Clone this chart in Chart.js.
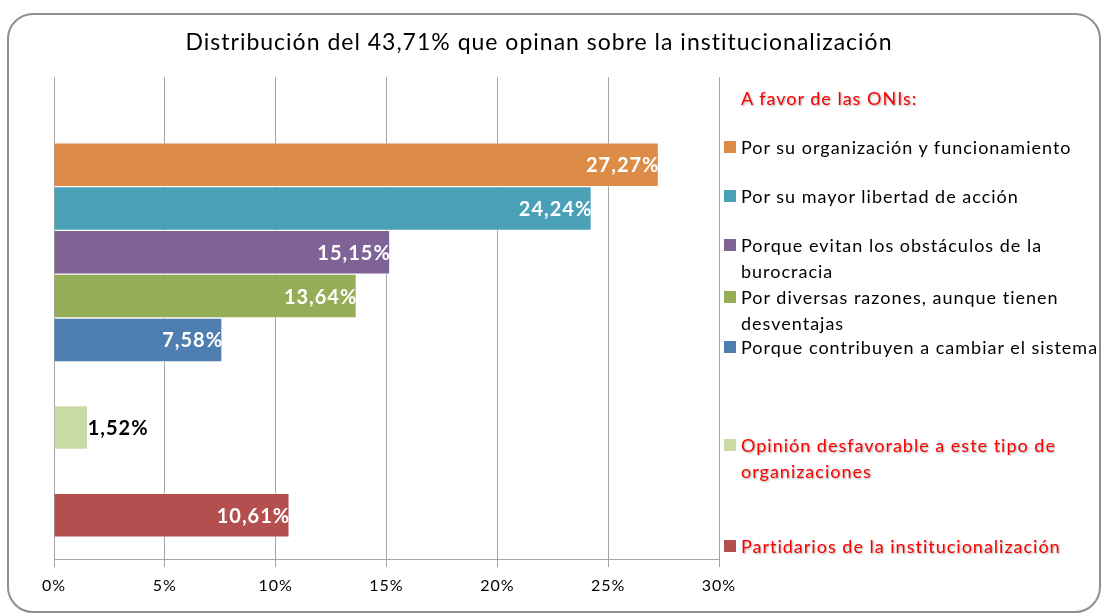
<!DOCTYPE html>
<html>
<head>
<meta charset="utf-8">
<script src="https://cdn.jsdelivr.net/npm/chart.js@4"></script>
<style>
  html, body { margin: 0; padding: 0; background: #fff; }
  #wrap { position: relative; width: 1104px; height: 616px; overflow: hidden; font-family: Lato, "Liberation Sans", sans-serif; }
  #frame { position: absolute; left: 7px; top: 13px; width: 1094px; height: 600px; border: 2px solid #8f8f8f; border-radius: 26px; box-sizing: border-box; }
  canvas { position: absolute; left: 0; top: 0; }
  .leg { position: absolute; left: 724px; font-size: 18px; line-height: 26px; letter-spacing: 1px; color: #000; white-space: nowrap; }
  .leg .box { position: absolute; left: 0; top: 7px; width: 12px; height: 12px; }
  .leg .txt { margin-left: 17px; }
  .red { color: #ff0000; text-shadow: 1px 1px 2px rgba(0,0,0,0.35); }
</style>
</head>
<body>
<div id="wrap">
  <div id="frame"></div>
  <canvas id="chart" width="1104" height="616"></canvas>
  <div id="legend"></div>
</div>
<script>
// slots on the vertical axis, empty ones leave the gaps
const categories = [
  "", "",
  "Por su organización y funcionamiento",
  "Por su mayor libertad de acción",
  ["Porque evitan los obstáculos de la", "burocracia"],
  ["Por diversas razones, aunque tienen", "desventajas"],
  "Porque contribuyen a cambiar el sistema",
  "",
  ["Opinión desfavorable a este tipo de", "organizaciones"],
  "",
  "Partidarios de la institucionalización",
  ""
];
const values = [null, null, 27.27, 24.24, 15.15, 13.64, 7.58, null, 1.52, null, 10.61, null];
const colors = [null, null, "#dd8c48", "#4aa0b6", "#7f6396", "#96ad58", "#4e7db0", null, "#c9daa6", null, "#b3504f", null];
const redLabels = [8, 10];
const xTicks = [0, 5, 10, 15, 20, 25, 30];
const legendHeader = "A favor de las ONIs:";
const titleText = "Distribución del 43,71% que opinan sobre la institucionalización";

// legend layout (top px of each entry)
const legendTops = { header: 85, 2: 134, 3: 183, 4: 232, 5: 284, 6: 334, 8: 432, 10: 533 };

const FONT = "Lato, 'Liberation Sans', sans-serif";

const labelPlugin = {
  id: "valueLabels",
  beforeDraw(chart) {
    chart.ctx.letterSpacing = "1px";
  },
  afterDatasetsDraw(chart) {
    const ctx = chart.ctx;
    const meta = chart.getDatasetMeta(0);
    ctx.save();
    ctx.font = "bold 20px " + FONT;
    ctx.letterSpacing = "1px";
    ctx.textBaseline = "middle";
    meta.data.forEach((bar, i) => {
      const v = values[i];
      if (v == null) return;
      const txt = v.toFixed(2).replace(".", ",") + "%";
      if (v > 5) {
        ctx.fillStyle = "#fff";
        ctx.textAlign = "right";
        ctx.fillText(txt, bar.x + 1, bar.y + 1);
      } else {
        ctx.fillStyle = "#000";
        ctx.textAlign = "left";
        ctx.fillText(txt, bar.x, bar.y + 1);
      }
    });
    ctx.restore();
  },
  afterDraw(chart) {
    const ctx = chart.ctx;
    ctx.save();
    ctx.font = "23px " + FONT;
    ctx.letterSpacing = "1px";
    ctx.fillStyle = "#000";
    ctx.textAlign = "center";
    ctx.textBaseline = "middle";
    ctx.fillText(titleText, 539, 43);
    ctx.restore();
  }
};

new Chart(document.getElementById("chart"), {
  type: "bar",
  data: {
    labels: categories,
    datasets: [{
      data: values,
      backgroundColor: colors,
      borderColor: "rgba(255,255,255,0.5)",
      borderWidth: 1,
      barPercentage: 1,
      categoryPercentage: 1
    }]
  },
  options: {
    indexAxis: "y",
    responsive: false,
    animation: false,
    layout: { padding: { top: 77, left: 54, right: 385, bottom: 0 } },
    plugins: { legend: { display: false }, tooltip: { enabled: false } },
    scales: {
      x: {
        min: 0,
        max: 30,
        afterBuildTicks: (s) => { s.ticks = xTicks.map((v) => ({ value: v })); },
        afterFit: (s) => { s.height = 57; },
        ticks: {
          callback: (v) => v + "%",
          color: "#000",
          font: { family: FONT, size: 16 },
          padding: 9
        },
        grid: { color: "#a6a6a6", lineWidth: 1, tickLength: 8 },
        border: { color: "#a6a6a6" }
      },
      y: {
        offset: false,
        afterFit: (s) => { s.width = 0; },
        ticks: { display: false },
        grid: { display: false },
        border: { display: false }
      }
    }
  },
  plugins: [labelPlugin]
});

// legend from the same arrays
const legend = document.getElementById("legend");
const head = document.createElement("div");
head.className = "leg red";
head.style.top = legendTops.header + "px";
head.innerHTML = '<span class="txt">' + legendHeader + "</span>";
legend.appendChild(head);
categories.forEach((c, i) => {
  if (!c) return;
  const d = document.createElement("div");
  d.className = "leg" + (redLabels.includes(i) ? " red" : "");
  d.style.top = legendTops[i] + "px";
  const lines = Array.isArray(c) ? c : [c];
  d.innerHTML = '<span class="box" style="background:' + colors[i] + '"></span>' +
    '<div class="txt">' + lines.join("<br>") + "</div>";
  legend.appendChild(d);
});
</script>
</body>
</html>
